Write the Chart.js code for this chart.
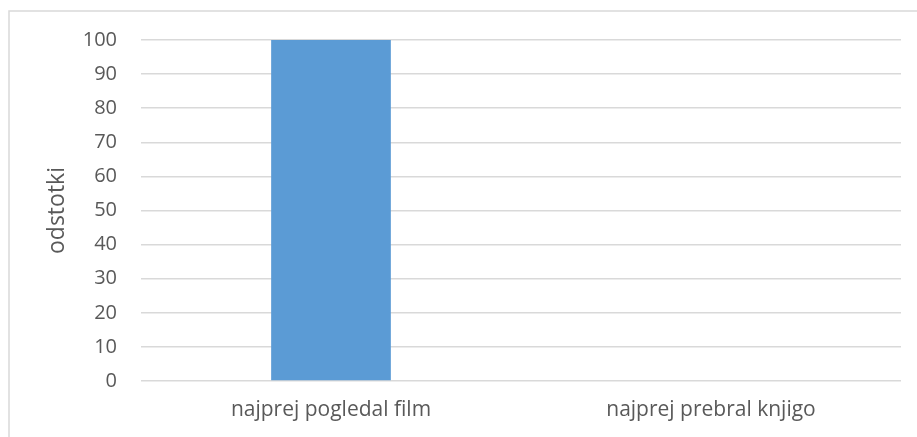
<!DOCTYPE html>
<html><head><meta charset="utf-8">
<script src="https://cdn.jsdelivr.net/npm/chart.js@4"></script>
<style>html,body{margin:0;padding:0;background:#fff;}#wrap{width:917px;height:437px;position:relative;}</style>
</head><body><div id="wrap"><canvas id="c" width="917" height="437"></canvas></div>
<script>
const categories = ["najprej pogledal film", "najprej prebral knjigo"];
const values = [100, 0];
const yTicks = [0, 10, 20, 30, 40, 50, 60, 70, 80, 90, 100];
const yTitle = "odstotki";

const borderPlugin = {
  id: 'outerBorder',
  beforeDraw(chart) {
    const ctx = chart.ctx;
    ctx.save();
    ctx.fillStyle = '#fff';
    ctx.fillRect(0, 0, chart.width, chart.height);
    ctx.strokeStyle = '#d9d9d9';
    ctx.lineWidth = 1.5;
    ctx.beginPath();
    ctx.moveTo(9, chart.height + 5);
    ctx.lineTo(9, 11);
    ctx.lineTo(chart.width + 5, 11);
    ctx.stroke();
    ctx.restore();
  }
};

new Chart(document.getElementById('c'), {
  type: 'bar',
  data: { labels: categories, datasets: [{ data: values, backgroundColor: '#5b9bd5', barPercentage: 0.63, categoryPercentage: 0.5 }] },
  options: {
    responsive: false, animation: false, devicePixelRatio: 1,
    layout: { padding: { left: 0, right: 16, top: 40, bottom: 0 } },
    plugins: { legend: { display: false }, tooltip: { enabled: false } },
    scales: {
      x: {
        grid: { display: false, drawTicks: false },
        border: { display: false },
        ticks: { color: '#595959', font: { family: 'Open Sans', size: 21 }, padding: 16 },
        afterFit(s) { s.height = 56; }
      },
      y: {
        min: 0, max: 100,
        afterBuildTicks(s) { s.ticks = yTicks.map(v => ({ value: v })); },
        grid: { color: '#d9d9d9', lineWidth: 1.5, drawTicks: false },
        border: { display: false },
        ticks: { color: '#595959', font: { family: 'Open Sans', size: 20 }, padding: 24 },
        title: { display: true, text: yTitle, color: '#595959', font: { family: 'Open Sans', size: 23 }, padding: { top: 44, bottom: 0 } },
        afterFit(s) { s.width = 141; }
      }
    }
  },
  plugins: [borderPlugin]
});
</script></body></html>
